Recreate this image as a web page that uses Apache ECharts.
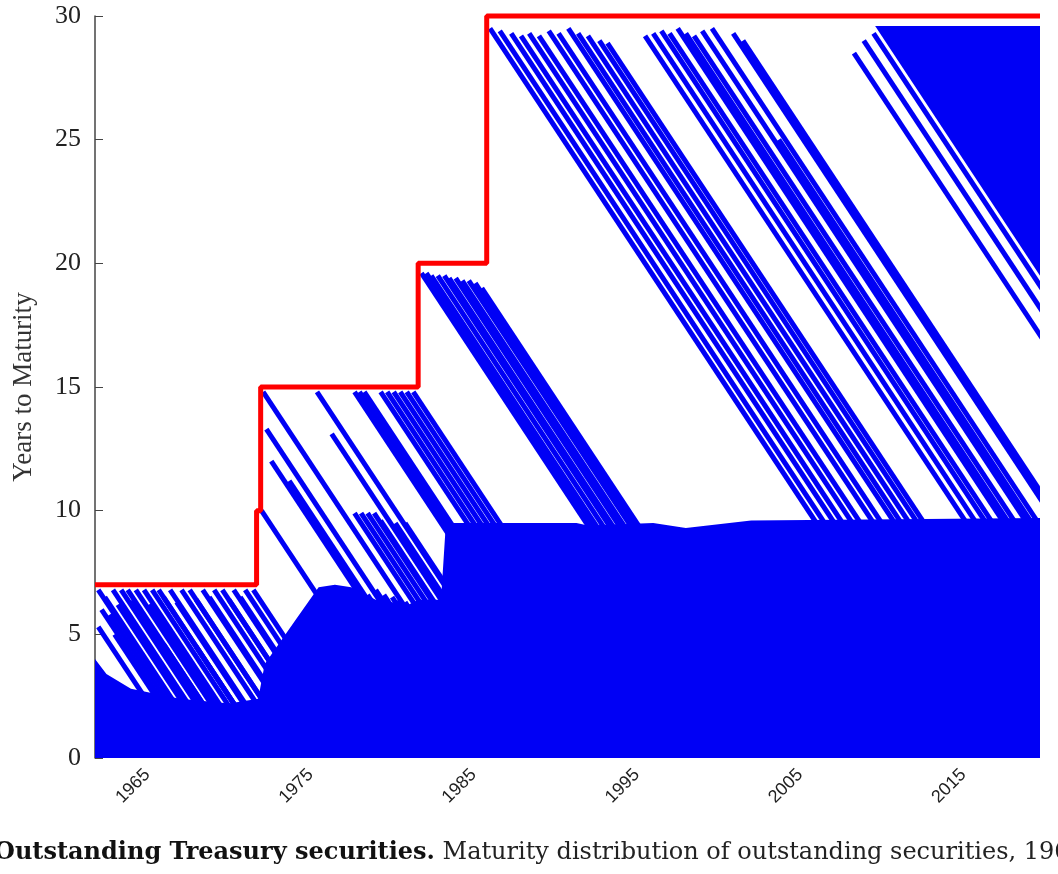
<!DOCTYPE html>
<html>
<head>
<meta charset="utf-8">
<script src="https://cdn.jsdelivr.net/npm/echarts@6/dist/echarts.min.js"></script>
<style>html,body{margin:0;padding:0;background:#fff}#chart{width:1058px;height:874px}</style>
</head>
<body>
<div id="chart"></div>
<script>
// x range and ticks
const xMin = 1961.8, xMax = 2019.7;
const yearTicks = [1965, 1975, 1985, 1995, 2005, 2015];

// maximum issued maturity (red step line)
const maxMaturity = [
  [1961.8, 7], [1971.7, 7], [1971.7, 10], [1971.95, 10], [1971.95, 15],
  [1981.6, 15], [1981.6, 20], [1985.8, 20], [1985.8, 30], [2019.7, 30]
];

// top envelope of the densely filled short-maturity region
const denseTop = [
  [1961.8, 4.0], [1962.5, 3.4], [1964, 2.8], [1967, 2.4], [1970, 2.2], [1971.8, 2.4],
  [1972.2, 3.8], [1974, 5.5], [1975.5, 6.9], [1976.5, 7.0], [1977.5, 6.9], [1979, 6.4],
  [1981, 6.2], [1981.6, 6.4], [1983, 6.4], [1983.3, 9.5], [1991.3, 9.5], [1992, 9.4],
  [1996, 9.5], [1998, 9.3], [2002, 9.6], [2019.7, 9.7]
];

// dense 30-year block after 2010: [issueStart, issueEnd, top maturity]
const recentBlock = [2009.6, 2019.7, 29.6];

// individual securities: [issue year, maturity at top of line]
const notes7 = [
  [1962.0, 6.8], [1962.2, 6.0], [1962.4, 6.5], [1962.7, 5.8], [1962.9, 6.8], [1963.2, 6.2],
  [1963.4, 6.8], [1963.8, 6.8], [1964.1, 6.4], [1964.3, 6.8], [1964.8, 6.8], [1965.1, 6.2],
  [1965.3, 6.8], [1965.7, 6.8], [1966.0, 6.5], [1966.4, 6.8], [1966.8, 6.3], [1967.1, 6.8],
  [1967.6, 6.8], [1968.0, 6.4], [1968.4, 6.8], [1968.8, 6.5], [1969.1, 6.8], [1969.6, 6.8],
  [1970.0, 6.4], [1970.3, 6.8], [1970.7, 6.5], [1971.0, 6.8], [1971.5, 6.8],
  [1962.0, 5.3], [1963.0, 5.0], [1964.0, 4.8], [1966.0, 4.6], [1968.0, 4.5]
];
const notes7late = [
  [1976.8, 6.8], [1977.2, 6.8], [1977.6, 6.6], [1978.0, 6.8], [1978.5, 6.6], [1979.0, 6.8],
  [1979.5, 6.6], [1980.0, 6.5], [1980.4, 6.4], [1980.8, 6.3], [1981.2, 6.2]
];
const bonds15 = [
  [1972.0, 10.0], [1972.1, 14.8], [1972.3, 13.3], [1972.6, 12.0], [1973.7, 11.2],
  [1975.4, 14.8], [1976.3, 13.1], [1977.7, 14.8], [1978.0, 14.8], [1978.3, 14.8],
  [1979.3, 14.8], [1979.7, 14.8], [1980.1, 14.8], [1980.5, 14.8], [1980.9, 14.8], [1981.3, 14.8],
  [1977.7, 9.9], [1978.1, 9.9], [1978.5, 9.9], [1978.9, 9.9], [1979.3, 9.6], [1980.2, 9.5], [1980.8, 9.5]
];
const bonds20 = [
  [1981.8, 19.6], [1982.1, 19.6], [1982.4, 19.5], [1982.8, 19.5], [1983.2, 19.5], [1983.5, 19.4],
  [1983.9, 19.4], [1984.3, 19.3], [1984.7, 19.3], [1985.1, 19.2], [1985.5, 19.0]
];
const bonds30 = [
  [1986.0, 29.5], [1986.6, 29.4], [1987.3, 29.3], [1987.9, 29.2], [1988.4, 29.3], [1989.0, 29.2],
  [1989.6, 29.4], [1990.2, 29.3], [1990.8, 29.5], [1991.4, 29.3], [1992.0, 29.2], [1992.7, 29.0],
  [1993.2, 28.9], [1995.5, 29.2], [1996.0, 29.3], [1996.5, 29.4], [1997.0, 29.3], [1997.5, 29.5],
  [1998.0, 29.3], [1998.5, 29.2], [1999.0, 29.4], [1999.6, 29.5], [2000.9, 29.3], [2001.5, 29.0],
  [2003.7, 25.0], [2008.3, 28.5], [2008.9, 29.0], [2009.5, 29.3], [2010.0, 29.5]
];
const securities = [].concat(notes7, notes7late, bonds15, bonds20, bonds30);

const blue = '#0000f5';
const chart = echarts.init(document.getElementById('chart'));
chart.setOption({
  animation: false,
  grid: { left: 95, right: 18, top: 16, bottom: 116 },
  xAxis: {
    type: 'value', min: xMin, max: xMax,
    axisLine: { show: false }, splitLine: { show: false },
    axisTick: { show: false },
    axisLabel: {
      customValues: yearTicks, rotate: 45, margin: 14,
      formatter: v => String(v),
      fontFamily: 'Liberation Sans', fontSize: 18, color: '#222'
    }
  },
  yAxis: {
    type: 'value', min: 0, max: 30, interval: 5,
    name: 'Years to Maturity', nameLocation: 'middle', nameGap: 58, nameRotate: 90,
    nameTextStyle: { fontFamily: 'Liberation Serif', fontSize: 27, color: '#333' },
    axisLine: { show: true, lineStyle: { color: '#444', width: 1.5 } },
    axisTick: { show: true, inside: true, length: 8, lineStyle: { color: '#444' } },
    splitLine: { show: false },
    axisLabel: { fontFamily: 'Liberation Serif', fontSize: 26, color: '#222', margin: 14 }
  },
  series: [
    {
      type: 'line', data: denseTop, symbol: 'none', z: 1,
      lineStyle: { width: 0 },
      areaStyle: { color: blue, opacity: 1 }
    },
    {
      type: 'custom', z: 2, clip: true, data: [recentBlock],
      renderItem: (params, api) => {
        const a = api.coord([api.value(0), api.value(2)]);
        const b = api.coord([api.value(1), api.value(2)]);
        const c = api.coord([api.value(1), api.value(2) - (api.value(1) - api.value(0))]);
        return { type: 'polygon', shape: { points: [a, b, c] }, style: { fill: blue } };
      }
    },
    {
      type: 'custom', z: 3, clip: true, data: securities,
      renderItem: (params, api) => {
        const t = api.value(0), m = api.value(1);
        const p1 = api.coord([t, m]);
        const p2 = api.coord([t + m, 0]);
        return {
          type: 'line', shape: { x1: p1[0], y1: p1[1], x2: p2[0], y2: p2[1] },
          style: { stroke: blue, lineWidth: 5 }
        };
      }
    },
    {
      type: 'line', data: maxMaturity, symbol: 'none', z: 5, clip: false,
      lineStyle: { color: '#ff0000', width: 5 }
    }
  ],
  graphic: [{
    type: 'text', left: -6, top: 841,
    style: {
      text: '{b|Outstanding Treasury securities.} Maturity distribution of outstanding securities, 1961–2019',
      rich: { b: { fontWeight: 'bold', fontFamily: 'DejaVu Serif', fontSize: 24, fill: '#111' } },
      fontFamily: 'DejaVu Serif', fontSize: 24, fill: '#222'
    }
  }]
});
</script>
</body>
</html>
